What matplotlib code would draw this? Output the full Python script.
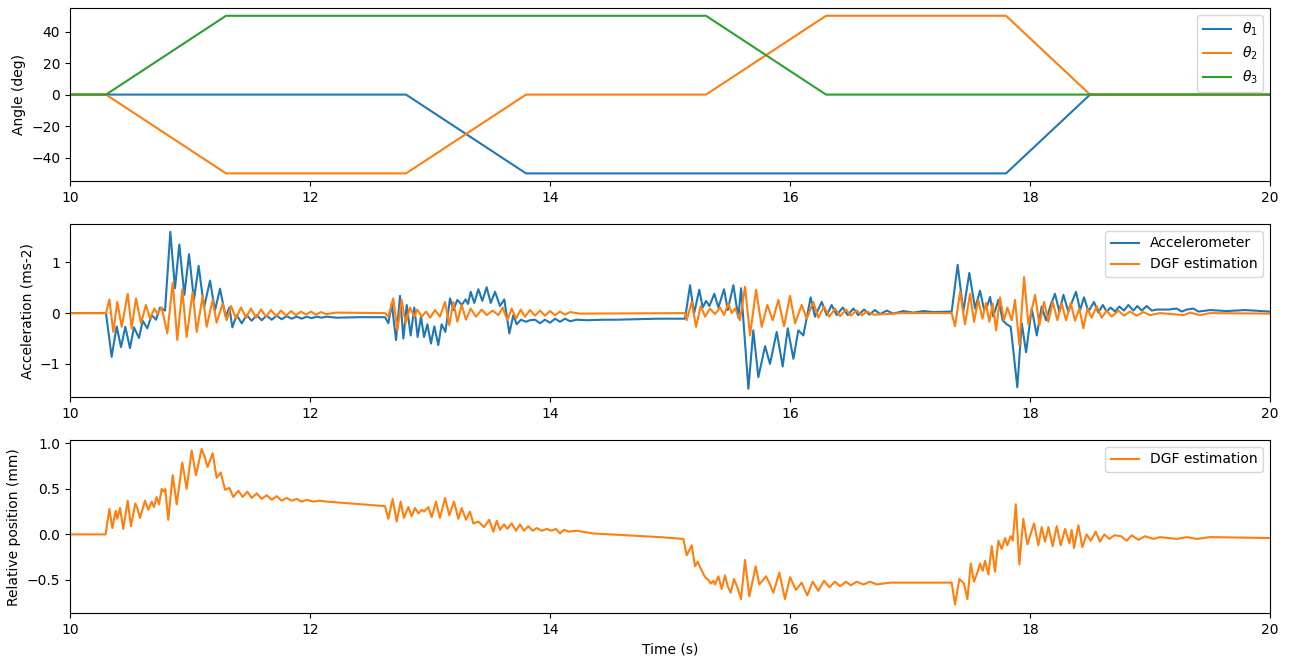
import numpy as np
import matplotlib.pyplot as plt

# joint angle set-points (deg)
ang_t = [10.0, 10.3, 11.3, 12.8, 13.8, 15.3, 16.3, 17.8, 18.5, 20.0]
theta1 = [0, 0, 0, 0, -50, -50, -50, -50, 0, 0]
theta2 = [0, 0, -50, -50, 0, 0, 50, 50, 0, 0]
theta3 = [0, 0, 50, 50, 50, 50, 0, 0, 0, 0]

acc_t = [10.0, 10.300, 10.347, 10.389, 10.425, 10.461, 10.500, 10.533, 10.575, 10.606,
         10.644, 10.681, 10.717, 10.750, 10.792, 10.836, 10.875, 10.911, 10.953, 10.992,
         11.033, 11.072, 11.117, 11.167, 11.208, 11.250, 11.297, 11.328, 11.353, 11.389,
         11.431, 11.472, 11.514, 11.556, 11.597, 11.639, 11.681, 11.722, 11.764, 11.806,
         11.847, 11.889, 11.931, 11.972, 12.014, 12.056, 12.097, 12.139, 12.222, 12.417,
         12.625, 12.653, 12.681, 12.717, 12.750, 12.778, 12.806, 12.839, 12.869, 12.897,
         12.925, 12.950, 12.978, 13.008, 13.036, 13.069, 13.097, 13.128, 13.167, 13.194,
         13.228, 13.264, 13.297, 13.317, 13.339, 13.369, 13.403, 13.436, 13.472, 13.506,
         13.542, 13.583, 13.619, 13.661, 13.694, 13.722, 13.758, 13.800, 13.833, 13.875,
         13.917, 13.958, 14.000, 14.042, 14.083, 14.125, 14.167, 14.222, 14.306, 14.444,
         14.556, 14.722, 14.889, 15.125, 15.167, 15.200, 15.244, 15.272, 15.300, 15.328,
         15.369, 15.403, 15.450, 15.481, 15.528, 15.569, 15.592, 15.653, 15.694, 15.736,
         15.792, 15.833, 15.889, 15.939, 15.981, 16.028, 16.069, 16.111, 16.172, 16.208,
         16.264, 16.306, 16.347, 16.389, 16.439, 16.481, 16.528, 16.569, 16.617, 16.661,
         16.708, 16.750, 16.806, 16.861, 16.944, 17.028, 17.111, 17.194, 17.347, 17.397,
         17.444, 17.494, 17.542, 17.583, 17.617, 17.639, 17.667, 17.694, 17.736, 17.772,
         17.806, 17.839, 17.894, 17.931, 17.967, 18.014, 18.056, 18.097, 18.133, 18.172,
         18.208, 18.244, 18.278, 18.319, 18.383, 18.417, 18.450, 18.486, 18.533, 18.569,
         18.606, 18.639, 18.672, 18.708, 18.744, 18.783, 18.819, 18.861, 18.894, 18.931,
         18.972, 19.014, 19.056, 19.153, 19.222, 19.264, 19.306, 19.361, 19.403, 19.500,
         19.639, 19.792, 20.0]
acc_v = [0, 0, -0.86, -0.26, -0.67, -0.27, -0.69, -0.28, -0.49, -0.15,
         -0.30, -0.04, -0.13, 0.11, 0.05, 1.60, 0.49, 1.35, 0.36, 1.16,
         0.26, 0.93, 0.11, 0.64, 0.05, 0.48, -0.07, 0.11, -0.28, -0.04,
         -0.20, -0.04, -0.15, -0.04, -0.14, -0.05, -0.13, -0.05, -0.12, -0.06,
         -0.11, -0.07, -0.11, -0.07, -0.10, -0.07, -0.09, -0.07, -0.09, -0.08,
         -0.08, -0.20, 0.19, -0.53, 0.34, -0.50, 0.16, -0.44, 0.11, -0.47,
         -0.07, -0.47, -0.22, -0.60, -0.26, -0.63, -0.22, -0.37, 0.29, 0.06,
         0.26, 0.16, 0.27, 0.18, 0.42, 0.20, 0.47, 0.24, 0.51, 0.20,
         0.42, 0.14, 0.27, -0.40, -0.04, -0.22, -0.13, -0.17, -0.14, -0.13,
         -0.20, -0.13, -0.19, -0.11, -0.17, -0.11, -0.16, -0.13, -0.14, -0.13,
         -0.13, -0.12, -0.11, -0.11, 0.55, -0.01, 0.46, 0.11, 0.24, 0.14,
         0.38, 0.11, 0.47, 0.06, 0.55, -0.09, 0.49, -1.49, -0.34, -1.26,
         -0.65, -1.00, -0.37, -1.05, -0.30, -0.90, -0.34, -0.44, 0.31, -0.07,
         0.22, -0.04, 0.16, -0.04, 0.11, -0.04, 0.09, -0.04, 0.07, -0.03,
         0.06, -0.02, 0.05, -0.01, 0.04, 0.01, 0.04, 0.02, 0.03, 0.95,
         0.03, 0.79, 0.09, 0.44, 0.07, 0.11, 0.32, -0.07, 0.26, -0.14,
         -0.22, -0.27, -1.46, -0.20, -0.77, 0.09, -0.44, 0.13, -0.14, 0.16,
         0.38, 0.03, 0.36, 0.03, 0.42, 0.06, 0.31, 0.03, 0.22, 0.01,
         0.16, 0.03, 0.11, 0.03, 0.13, 0.05, 0.16, 0.05, 0.14, 0.05,
         0.14, 0.05, 0.07, 0.07, 0.09, 0.03, 0.07, 0.09, 0.03, 0.06,
         0.04, 0.06, 0.03]

# DGF acceleration estimate
dgf_acc_t = [10.0, 10.300, 10.328, 10.361, 10.394, 10.431, 10.481, 10.514, 10.550, 10.592,
             10.633, 10.667, 10.703, 10.728, 10.764, 10.811, 10.856, 10.894, 10.936, 10.972,
             11.022, 11.056, 11.106, 11.139, 11.189, 11.222, 11.272, 11.306, 11.342, 11.383,
             11.425, 11.467, 11.508, 11.550, 11.592, 11.633, 11.675, 11.717, 11.758, 11.800,
             11.842, 11.883, 11.925, 11.967, 12.008, 12.050, 12.092, 12.133, 12.222, 12.625,
             12.653, 12.694, 12.728, 12.764, 12.797, 12.833, 12.869, 12.894, 12.931, 12.967,
             13.000, 13.042, 13.083, 13.125, 13.161, 13.194, 13.228, 13.264, 13.300, 13.339,
             13.383, 13.431, 13.472, 13.522, 13.569, 13.606, 13.644, 13.681, 13.717, 13.756,
             13.792, 13.833, 13.875, 13.917, 13.958, 14.000, 14.042, 14.083, 14.125, 14.167,
             14.250, 15.125, 15.139, 15.181, 15.217, 15.256, 15.292, 15.333, 15.375, 15.417,
             15.450, 15.486, 15.514, 15.542, 15.583, 15.625, 15.667, 15.717, 15.764, 15.811,
             15.856, 15.903, 15.950, 16.000, 16.042, 16.097, 16.139, 16.194, 16.236, 16.283,
             16.328, 16.375, 16.417, 16.467, 16.506, 16.556, 16.597, 16.644, 16.694, 16.806,
             16.917, 17.347, 17.375, 17.417, 17.458, 17.500, 17.533, 17.569, 17.603, 17.633,
             17.661, 17.689, 17.717, 17.750, 17.783, 17.811, 17.847, 17.875, 17.911, 17.950,
             17.986, 18.042, 18.078, 18.117, 18.153, 18.189, 18.228, 18.264, 18.300, 18.339,
             18.375, 18.411, 18.444, 18.478, 18.514, 18.556, 18.597, 18.639, 18.681, 18.736,
             18.783, 18.833, 18.889, 18.944, 19.000, 19.083, 19.278, 19.333, 19.417, 19.500,
             20.0]
dgf_acc_v = [0, 0, 0.27, -0.37, 0.22, -0.27, 0.38, -0.30, 0.29, -0.20,
             0.16, -0.11, 0.09, -0.01, 0.11, -0.40, 0.60, -0.53, 0.47, -0.47,
             0.42, -0.37, 0.34, -0.27, 0.26, -0.19, 0.19, -0.14, 0.14, -0.11,
             0.11, -0.09, 0.09, -0.09, 0.07, -0.07, 0.06, -0.06, 0.05, -0.05,
             0.04, -0.04, 0.03, -0.03, 0.03, -0.03, 0.02, -0.02, 0.01, 0,
             -0.07, 0.29, -0.34, 0.26, -0.20, 0.11, -0.07, 0.07, -0.07, 0.03,
             -0.09, 0.06, -0.07, 0.22, -0.24, 0.22, -0.17, 0.16, -0.13, 0.09,
             -0.07, 0.07, -0.04, 0.05, -0.04, 0.11, -0.14, 0.09, -0.11, 0.07,
             -0.07, 0.06, -0.05, 0.05, -0.05, 0.04, -0.04, 0.03, -0.03, 0.02,
             -0.01, 0, -0.14, 0.22, -0.27, 0.14, -0.07, 0.09, -0.02, 0.11,
             -0.04, 0.19, 0, 0.09, -0.14, 0.52, -0.44, 0.46, -0.27, 0.16,
             -0.14, 0.26, -0.26, 0.34, -0.20, 0.16, -0.11, 0.22, -0.09, 0.13,
             -0.07, 0.09, -0.06, 0.07, -0.05, 0.05, -0.04, 0.03, -0.03, -0.02,
             0, 0, -0.26, 0.42, -0.22, 0.38, -0.17, 0.26, -0.11, 0.20,
             -0.17, 0.19, -0.34, 0.31, -0.14, 0.11, -0.14, 0.26, -0.63, 0.71,
             -0.22, 0.36, -0.24, 0.22, -0.17, 0.22, -0.14, 0.19, -0.14, 0.20,
             -0.15, 0.09, -0.30, 0.09, -0.09, 0.14, -0.09, 0.05, -0.07, 0.05,
             -0.05, 0.03, -0.05, 0.02, -0.04, 0, -0.04, 0.01, -0.04, 0,
             -0.01]

# DGF relative position estimate (mm)
pos_t = [10.0, 10.297, 10.328, 10.353, 10.381, 10.394, 10.417, 10.444, 10.481, 10.508,
         10.544, 10.564, 10.583, 10.625, 10.653, 10.681, 10.700, 10.722, 10.742, 10.764,
         10.783, 10.794, 10.819, 10.856, 10.889, 10.936, 10.972, 11.014, 11.050, 11.097,
         11.117, 11.147, 11.189, 11.222, 11.256, 11.292, 11.328, 11.361, 11.403, 11.439,
         11.478, 11.514, 11.556, 11.597, 11.639, 11.681, 11.722, 11.764, 11.806, 11.847,
         11.889, 11.931, 11.972, 12.028, 12.083, 12.139, 12.625, 12.653, 12.689, 12.722,
         12.756, 12.783, 12.819, 12.847, 12.875, 12.903, 12.931, 12.950, 12.986, 13.014,
         13.050, 13.083, 13.125, 13.161, 13.200, 13.236, 13.264, 13.300, 13.333, 13.361,
         13.403, 13.450, 13.494, 13.528, 13.556, 13.583, 13.617, 13.644, 13.681, 13.717,
         13.750, 13.783, 13.819, 13.856, 13.889, 13.931, 13.972, 14.014, 14.050, 14.083,
         14.117, 14.153, 14.222, 14.361, 14.639, 14.917, 15.111, 15.139, 15.181, 15.208,
         15.231, 15.250, 15.292, 15.319, 15.339, 15.361, 15.375, 15.403, 15.431, 15.458,
         15.481, 15.506, 15.533, 15.561, 15.592, 15.625, 15.661, 15.714, 15.744, 15.764,
         15.800, 15.833, 15.861, 15.911, 15.958, 16.000, 16.050, 16.097, 16.144, 16.189,
         16.236, 16.283, 16.328, 16.375, 16.417, 16.467, 16.506, 16.556, 16.611, 16.667,
         16.722, 16.833, 17.028, 17.347, 17.375, 17.411, 17.450, 17.478, 17.506, 17.533,
         17.561, 17.583, 17.606, 17.625, 17.653, 17.681, 17.708, 17.736, 17.764, 17.792,
         17.811, 17.839, 17.856, 17.881, 17.911, 17.944, 17.978, 18.033, 18.069, 18.097,
         18.125, 18.153, 18.189, 18.222, 18.256, 18.292, 18.328, 18.347, 18.367, 18.403,
         18.436, 18.472, 18.506, 18.547, 18.583, 18.619, 18.661, 18.703, 18.758, 18.806,
         18.847, 18.903, 18.958, 19.028, 19.083, 19.222, 19.306, 19.389, 19.500, 20.0]
pos_v = [0, 0, 0.28, 0.07, 0.26, 0.17, 0.29, 0.06, 0.37, 0.09,
         0.34, 0.28, 0.18, 0.37, 0.27, 0.36, 0.30, 0.41, 0.33, 0.50,
         0.47, 0.50, 0.16, 0.65, 0.33, 0.79, 0.50, 0.92, 0.65, 0.94,
         0.87, 0.74, 0.89, 0.62, 0.68, 0.49, 0.51, 0.41, 0.48, 0.41,
         0.47, 0.40, 0.45, 0.39, 0.43, 0.38, 0.42, 0.37, 0.40, 0.37,
         0.39, 0.36, 0.38, 0.36, 0.37, 0.36, 0.31, 0.17, 0.39, 0.14,
         0.36, 0.18, 0.30, 0.20, 0.29, 0.23, 0.27, 0.25, 0.30, 0.19,
         0.36, 0.18, 0.40, 0.21, 0.36, 0.17, 0.29, 0.16, 0.25, 0.12,
         0.14, 0.08, 0.16, 0.03, 0.15, 0.05, 0.11, 0.06, 0.12, 0.04,
         0.11, 0.04, 0.09, 0.04, 0.07, 0.04, 0.06, 0.04, 0.06, 0.01,
         0.05, 0.03, 0.04, 0.01, -0.01, -0.03, -0.05, -0.23, -0.12, -0.35,
         -0.30, -0.36, -0.47, -0.50, -0.54, -0.51, -0.55, -0.46, -0.60, -0.45,
         -0.57, -0.64, -0.49, -0.58, -0.71, -0.28, -0.68, -0.35, -0.55, -0.52,
         -0.46, -0.55, -0.64, -0.42, -0.71, -0.47, -0.61, -0.53, -0.67, -0.52,
         -0.62, -0.51, -0.58, -0.52, -0.57, -0.52, -0.56, -0.52, -0.55, -0.52,
         -0.55, -0.53, -0.53, -0.53, -0.77, -0.49, -0.54, -0.71, -0.32, -0.52,
         -0.42, -0.32, -0.40, -0.29, -0.44, -0.13, -0.41, -0.07, -0.16, -0.04,
         -0.12, -0.02, -0.07, 0.33, -0.33, 0.17, -0.11, 0.12, -0.12, 0.08,
         -0.08, 0.08, -0.13, 0.09, -0.12, 0.06, -0.10, 0.05, -0.15, 0.10,
         -0.14, 0, -0.07, 0.03, -0.08, 0, -0.05, -0.01, -0.02, -0.07,
         -0.01, -0.06, -0.02, -0.05, -0.03, -0.05, -0.03, -0.05, -0.03, -0.04]

fig, (ax1, ax2, ax3) = plt.subplots(3, 1, figsize=(12.89, 6.59), dpi=100)
fig.subplots_adjust(left=0.0543, right=0.9853, top=0.988, bottom=0.0693, hspace=0.246)

ax1.plot(ang_t, theta1, label=r'$\theta_1$')
ax1.plot(ang_t, theta2, label=r'$\theta_2$')
ax1.plot(ang_t, theta3, label=r'$\theta_3$')
ax1.set_xlim(10, 20)
ax1.set_ylim(-55, 55)
ax1.set_ylabel('Angle (deg)')
ax1.legend(loc='upper right')

ax2.plot(acc_t, acc_v, label='Accelerometer')
ax2.plot(dgf_acc_t, dgf_acc_v, label='DGF estimation')
ax2.set_xlim(10, 20)
ax2.set_ylim(-1.657, 1.755)
ax2.set_ylabel('Acceleration (ms-2)')
ax2.legend(loc='upper right')

ax3.plot(pos_t, pos_v, color='C1', label='DGF estimation')
ax3.set_xlim(10, 20)
ax3.set_ylim(-0.867, 1.037)
ax3.set_ylabel('Relative position (mm)')
ax3.set_xlabel('Time (s)')
ax3.legend(loc='upper right')

plt.savefig('out.png')
